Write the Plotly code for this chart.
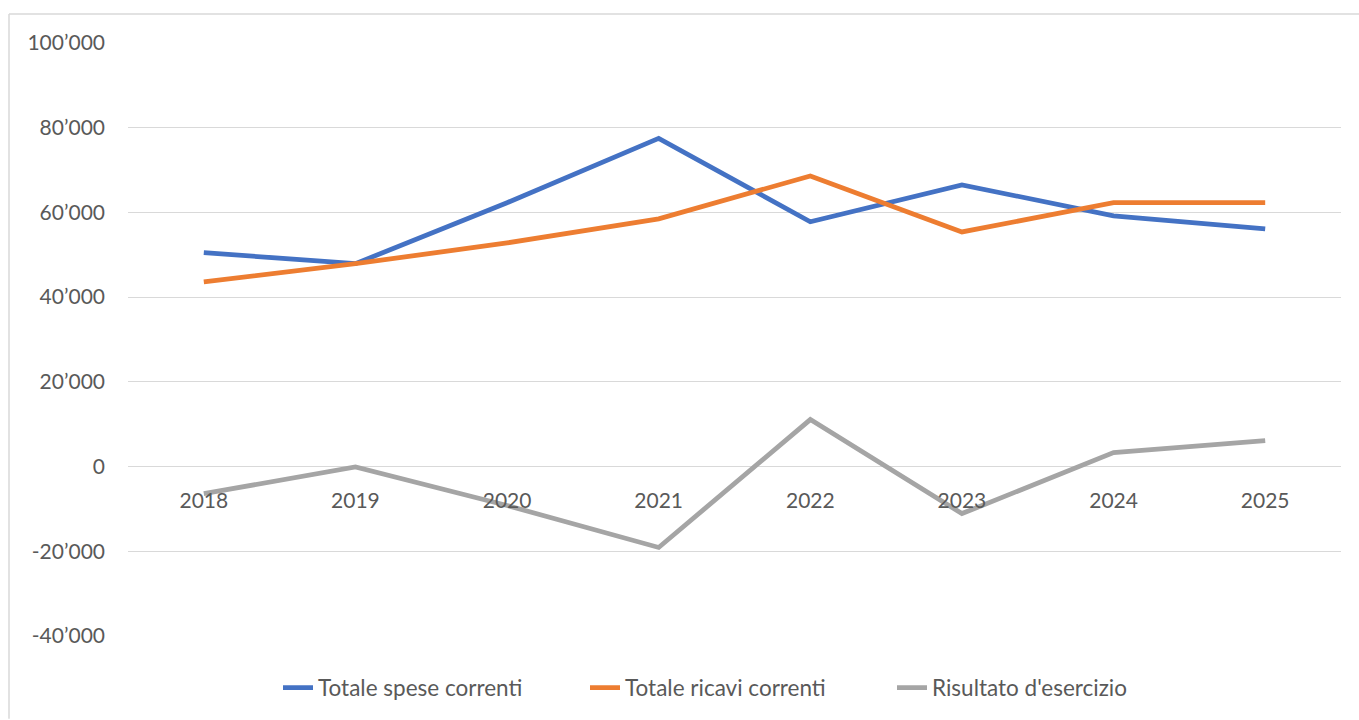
import plotly.graph_objects as go

years = ["2018", "2019", "2020", "2021", "2022", "2023", "2024", "2025"]
spese = [50500, 47900, 62300, 77500, 57800, 66500, 59200, 56100]
ricavi = [43600, 47900, 52800, 58500, 68600, 55400, 62300, 62300]
risultato = [-6400, -100, -9200, -19100, 11100, -11100, 3300, 6100]

names = ["Totale spese correnti", "Totale ricavi correnti", "Risultato d'esercizio"]
colors = ["#4472C4", "#ED7D31", "#A5A5A5"]

ytickvals = [-40000, -20000, 0, 20000, 40000, 60000, 80000, 100000]
yticktext = ["-40\u2019000", "-20\u2019000", "0", "20\u2019000", "40\u2019000",
             "60\u2019000", "80\u2019000", "100\u2019000"]

FONT = "Lato"
TXT = "#595959"

fig = go.Figure()
for name, vals, col in zip(names, [spese, ricavi, risultato], colors):
    fig.add_trace(go.Scatter(x=years, y=vals, name=name, mode="lines",
                             line=dict(color=col, width=4.8)))

W, H = 1359, 720
L, R, T, B = 128, 18, 43, 83
pw, ph = W - L - R, H - T - B

def px_x(px):
    return (px - L) / pw

def px_y(py):
    return (H - B - py) / ph

fig.update_layout(
    width=W, height=H,
    margin=dict(l=L, r=R, t=T, b=B),
    paper_bgcolor="white", plot_bgcolor="white",
    font=dict(family=FONT, color=TXT, size=21),
    showlegend=True,
    legend=dict(orientation="h", x=px_x(278), xanchor="left",
                y=px_y(688), yanchor="middle",
                entrywidth=262, entrywidthmode="pixels",
                font=dict(family=FONT, color=TXT, size=22.5),
                bgcolor="rgba(0,0,0,0)"),
    xaxis=dict(type="category", range=[-0.5, 7.5], showgrid=False,
               zeroline=False, showline=False, ticks="",
               anchor="free", position=40000 / 140000,
               ticklabelstandoff=19,
               tickfont=dict(family=FONT, color=TXT, size=21)),
    yaxis=dict(range=[-40000, 100000], tickvals=ytickvals, ticktext=yticktext,
               showgrid=True, gridcolor="#D9D9D9", gridwidth=1.3,
               zeroline=False, showline=False, ticks="",
               ticklabelstandoff=22,
               tickfont=dict(family=FONT, color=TXT, size=21)),
    shapes=[
        dict(type="line", xref="paper", yref="paper",
             x0=px_x(9), x1=px_x(1359), y0=px_y(14), y1=px_y(14),
             line=dict(color="#D9D9D9", width=1.5)),
        dict(type="line", xref="paper", yref="paper",
             x0=px_x(9), x1=px_x(9), y0=px_y(14), y1=px_y(720),
             line=dict(color="#D9D9D9", width=1.5)),
    ],
)

fig.write_html("out.html", config={"displayModeBar": False},
               post_script="document.body.style.margin='0';document.body.style.overflow='hidden';")
